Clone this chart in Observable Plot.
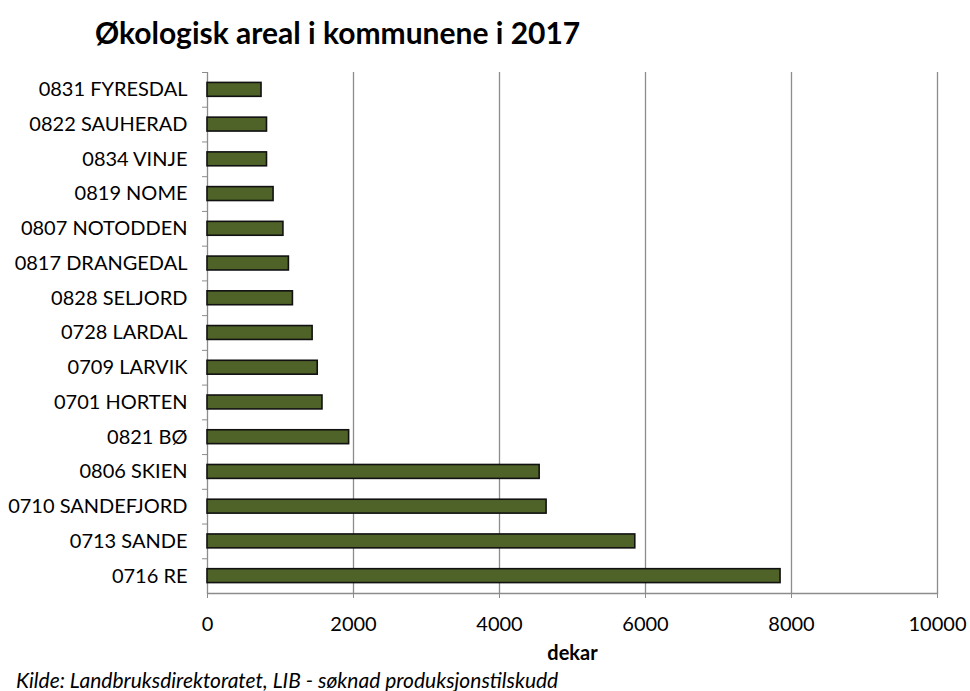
<!DOCTYPE html>
<html>
<head>
<meta charset="utf-8">
<script src="https://cdn.jsdelivr.net/npm/d3@7"></script>
<script src="https://cdn.jsdelivr.net/npm/@observablehq/plot@0.6"></script>
<style>
  html, body { margin: 0; padding: 0; background: #fff; }
  body { position: relative; width: 970px; height: 691px; overflow: hidden; font-family: Lato, sans-serif; color: #000; }
  #title { position: absolute; left: 95px; top: 14px; font-size: 30px; font-weight: bold; line-height: 36px; white-space: nowrap; }
  #chart { position: absolute; left: 0; top: 50px; }
  #caption { position: absolute; left: 16px; top: 669px; font-size: 21px; font-style: italic; line-height: 21px; white-space: nowrap; }
  svg { display: block; }
</style>
</head>
<body>
<div id="title">Økologisk areal i kommunene i 2017</div>
<div id="chart"></div>
<div id="caption">Kilde: Landbruksdirektoratet, LIB - søknad produksjonstilskudd</div>
<script>
const municipalities = [
  "0831 FYRESDAL", "0822 SAUHERAD", "0834 VINJE", "0819 NOME", "0807 NOTODDEN",
  "0817 DRANGEDAL", "0828 SELJORD", "0728 LARDAL", "0709 LARVIK", "0701 HORTEN",
  "0821 BØ", "0806 SKIEN", "0710 SANDEFJORD", "0713 SANDE", "0716 RE"
];
const areas = [740, 815, 815, 905, 1040, 1115, 1170, 1440, 1510, 1575, 1940, 4550, 4645, 5860, 7850];
const xTicks = [0, 2000, 4000, 6000, 8000, 10000];
const xLabel = "dekar";

const data = municipalities.map((name, i) => ({name, value: areas[i]}));

const height = 616, marginTop = 22, marginBottom = 73;
const step = (height - marginTop - marginBottom) / municipalities.length;

const chart = Plot.plot({
  width: 970,
  height,
  marginLeft: 207,
  marginRight: 33,
  marginTop,
  marginBottom,
  style: {fontFamily: "Lato, sans-serif", fontSize: "20px", color: "#000", background: "#fff"},
  x: {domain: [0, 10000]},
  y: {domain: municipalities, paddingInner: 0.6, paddingOuter: 0.3, align: 0.5, round: false},
  marks: [
    Plot.gridX(xTicks.slice(1), {stroke: "#8c8c8c", strokeOpacity: 1, strokeWidth: 1.3}),
    Plot.frame({anchor: "bottom", stroke: "#8c8c8c", strokeWidth: 1.3}),
    Plot.ruleX([0], {stroke: "#8c8c8c", strokeWidth: 1.3}),
    Plot.axisX({ticks: xTicks, tickSize: 5, tickPadding: 18, stroke: "#8c8c8c", tickFormat: d3.format("d"), fontSize: 20, label: null}),
    Plot.axisY({tickSize: 0, tickPadding: 20, fontSize: 20, label: null}),
    Plot.axisY({tickSize: 5, fill: "none", stroke: "#8c8c8c", dy: -step / 2, label: null}),
    Plot.barX(data, {x: "value", y: "name", fill: "#4f6228", stroke: "#111", strokeWidth: 1.6}),
    Plot.text([xLabel], {frameAnchor: "bottom", lineAnchor: "middle", dy: 60, fontWeight: "bold", fontSize: 20, fill: "#000"})
  ]
});
document.getElementById("chart").append(chart);
</script>
</body>
</html>
